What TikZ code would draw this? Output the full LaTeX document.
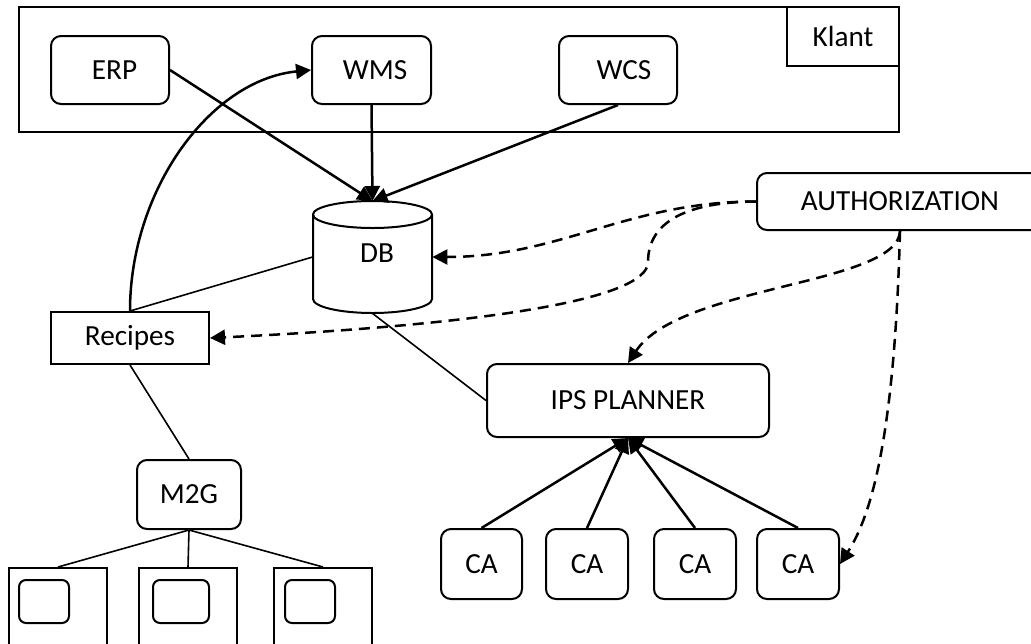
\documentclass[tikz,border=0pt]{standalone}
\usepackage{fontspec}
\setmainfont{Carlito}
\usetikzlibrary{arrows.meta}
\begin{document}
\begin{tikzpicture}[x=0.5pt,y=-0.5pt,
  every node/.style={font=\fontsize{14.6pt}{17pt}\selectfont, inner sep=0pt},
  rbox/.style={draw, line width=1pt, rounded corners=5pt},
  sbox/.style={draw, line width=1pt},
  arr/.style={line width=1.25pt, -{Triangle[length=7.5pt,width=7.5pt]}},
  darr/.style={line width=1.25pt, dash pattern=on 5.5pt off 3.5pt, -{Triangle[length=7.5pt,width=7.5pt]}},
  thinline/.style={line width=0.8pt},
  cyl/.style={line width=1pt}
]
\useasboundingbox (0,0) rectangle (1031,643);

% Klant area
\node[sbox, minimum width=440pt, minimum height=62.5pt] (klantbox) at (459,69.5) {};
\node[sbox, minimum width=56pt, minimum height=29.5pt] (klant) at (843,36.5) {Klant\hspace{5pt}};
\node[rbox, minimum width=59pt, minimum height=34pt] (erp) at (110,70) {\hspace{4.5pt}ERP};
\node[rbox, minimum width=59.5pt, minimum height=34pt] (wms) at (371.5,70) {\hspace{3.5pt}WMS};
\node[rbox, minimum width=59pt, minimum height=34pt] (wcs) at (618,70) {\hspace{6pt}WCS};

% DB cylinder
\node[minimum width=59.5pt, minimum height=56pt] (db) at (372.5,257) {};
\draw[cyl, fill=white] (313,214.5) -- (313,299)
  arc[start angle=180, end angle=360, x radius=29.75pt, y radius=7pt] -- (432,214.5);
\draw[cyl] (372.5,214.5) ellipse [x radius=29.75pt, y radius=6.75pt];
\node (dblabel) at (377,253) {DB};
\coordinate (dbtop) at (372.5,201);

% Left side
\node[sbox, minimum width=79pt, minimum height=26pt] (recipes) at (130,338) {Recipes};
\node[rbox, minimum width=52pt, minimum height=34.5pt] (m2g) at (189,494.5) {M2G};
\node[sbox, minimum width=49pt, minimum height=75pt] (b1) at (58,643) {};
\node[sbox, minimum width=49pt, minimum height=75pt] (b2) at (188,643) {};
\node[sbox, minimum width=49pt, minimum height=75pt] (b3) at (323,643) {};
\node[rbox, rounded corners=3.5pt, minimum width=25pt, minimum height=21.5pt] (i1) at (44,601.5) {};
\node[rbox, rounded corners=3.5pt, minimum width=28pt, minimum height=21.5pt] (i2) at (181,601.5) {};
\node[rbox, rounded corners=3.5pt, minimum width=25pt, minimum height=21.5pt] (i3) at (310,601.5) {};

% Right side
\node[rbox, minimum width=143pt, minimum height=28.5pt] (auth) at (900,201.5) {AUTHORIZATION};
\node[rbox, minimum width=141pt, minimum height=36.5pt] (ips) at (628,400.5) {IPS PLANNER};
\node[rbox, minimum width=40.5pt, minimum height=35pt] (ca1) at (481.5,564) {CA};
\node[rbox, minimum width=41pt, minimum height=35pt] (ca2) at (587,564) {CA};
\node[rbox, minimum width=41pt, minimum height=35pt] (ca3) at (695,564) {CA};
\node[rbox, minimum width=41pt, minimum height=35pt] (ca4) at (798,564) {CA};

% Solid connectors
\draw[arr] (erp.east) -- (dbtop);
\draw[arr] (wms.south) -- (dbtop);
\draw[arr] (wcs.south) -- (dbtop);
\draw[thinline] (recipes.north) -- (db.west);
\draw[arr] (recipes.north) .. controls (130,190) and (210,80) .. (wms.west);
\draw[thinline] (recipes.south) -- (m2g.north);
\draw[thinline] (m2g.south) -- (b1.north);
\draw[thinline] (m2g.south) -- (b2.north);
\draw[thinline] (m2g.south) -- (b3.north);
\draw[thinline] (db.south) -- (ips.west);
\draw[arr] (ca1.north) -- (ips.south);
\draw[arr] (ca2.north) -- (ips.south);
\draw[arr] (ca3.north) -- (ips.south);
\draw[arr] (ca4.north) -- (ips.south);

% Dashed connectors
\coordinate (bend) at (648,262);
\draw[darr] (auth.west) to[out=180,in=0] (db.east);
\draw[darr] (auth.west) .. controls (690,202) and (648,220) .. (bend)
  .. controls (648,300) and (480,325) .. (recipes.east);
\draw[darr] (auth.south) .. controls (898,285) and (680,285) .. (ips.north);
\draw[darr] (auth.south) .. controls (895,420) and (875,510) .. (ca4.east);
\end{tikzpicture}
\end{document}
